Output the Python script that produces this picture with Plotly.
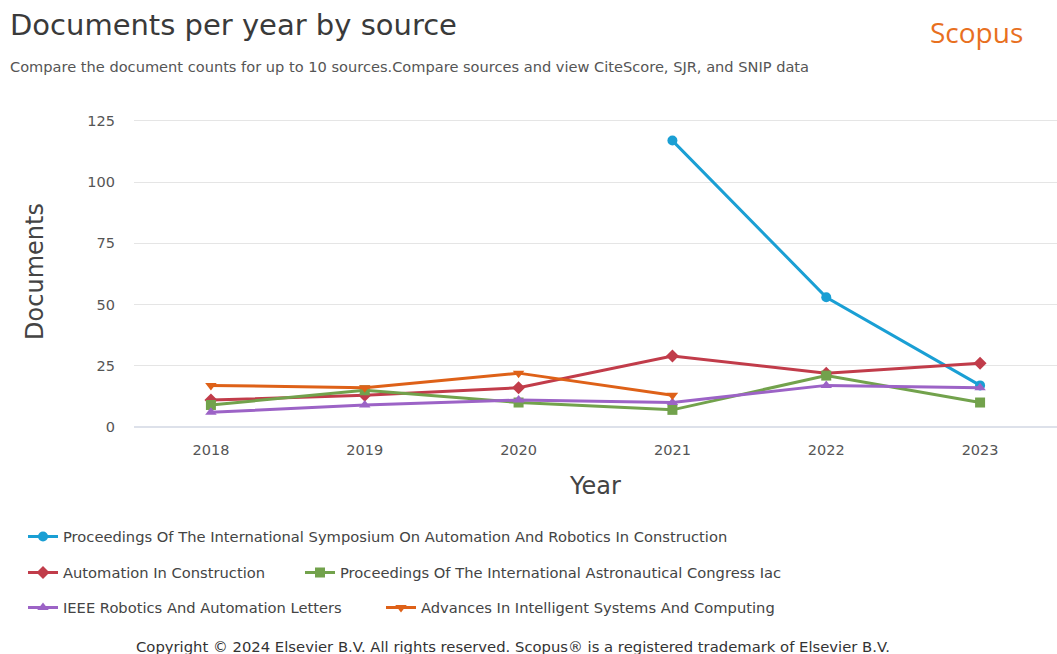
import plotly.graph_objects as go

years = [2018, 2019, 2020, 2021, 2022, 2023]
names = [
    "Proceedings Of The International Symposium On Automation And Robotics In Construction",
    "Automation In Construction",
    "Proceedings Of The International Astronautical Congress Iac",
    "IEEE Robotics And Automation Letters",
    "Advances In Intelligent Systems And Computing",
]
isarc = [None, None, None, 117, 53, 17]
autcon = [11, 13, 16, 29, 22, 26]
iac = [9, 15, 10, 7, 21, 10]
ieee_ral = [6, 9, 11, 10, 17, 16]
aisc = [17, 16, 22, 13, None, None]

series = [isarc, autcon, iac, ieee_ral, aisc]
colors = ["#1a9fd4", "#c13c4a", "#72a24c", "#9c63c6", "#de6118"]
symbols = ["circle", "diamond", "square", "triangle-up", "triangle-down"]
legends = ["legend", "legend2", "legend3", "legend4", "legend5"]

FONT = "DejaVu Sans"

fig = go.Figure()
for name, ys, c, s, lg in zip(names, series, colors, symbols, legends):
    fig.add_trace(go.Scatter(
        x=years, y=ys, name=name, mode="lines+markers",
        line=dict(color=c, width=3),
        marker=dict(color=c, symbol=s, size=10),
        legend=lg, cliponaxis=False,
    ))

leg_common = dict(orientation="h", xanchor="left", yanchor="middle",
                  xref="container", yref="container",
                  font=dict(family=FONT, size=14.7, color="#444"),
                  bgcolor="rgba(0,0,0,0)", itemwidth=30)

W, H = 1057, 654
def ypos(px):
    return 1 - px / H

fig.update_layout(
    width=W, height=H,
    margin=dict(l=134, r=0, t=116, b=227),
    plot_bgcolor="white", paper_bgcolor="white",
    font=dict(family=FONT, color="#555"),
    xaxis=dict(
        range=[2017.5, 2023.5], tickmode="array", tickvals=years,
        ticktext=[str(y) for y in years], showgrid=False, zeroline=False,
        showline=False, tickfont=dict(size=14.5, color="#555"), ticks="",
        ticklabelstandoff=12,
        title=dict(text="Year", font=dict(size=24, color="#444"), standoff=20),
    ),
    yaxis=dict(
        range=[0, 127.04], tickvals=[0, 25, 50, 75, 100, 125],
        showgrid=True, gridcolor="#e5e5e5", gridwidth=1,
        zeroline=True, zerolinecolor="#dde1ea", zerolinewidth=1.5,
        showline=False, ticks="", tickfont=dict(size=14.5, color="#555"),
        ticklabelstandoff=18,
        title=dict(text="Documents", font=dict(size=24, color="#444"), standoff=36),
    ),
    legend=dict(x=23 / W, y=ypos(537), **leg_common),
    legend2=dict(x=23 / W, y=ypos(573), **leg_common),
    legend3=dict(x=300 / W, y=ypos(573), **leg_common),
    legend4=dict(x=23 / W, y=ypos(608), **leg_common),
    legend5=dict(x=381 / W, y=ypos(608), **leg_common),
    showlegend=True,
)

fig.add_annotation(text="Documents per year by source", xref="paper", yref="paper",
                   x=-126 / 923, xanchor="left", y=1 + (116 - 25) / 311, yanchor="middle",
                   showarrow=False, font=dict(family=FONT, size=29, color="#3a3a3a"))
fig.add_annotation(text="Compare the document counts for up to 10 sources.Compare sources and view CiteScore, SJR, and SNIP data",
                   xref="paper", yref="paper",
                   x=-126 / 923, xanchor="left", y=1 + (116 - 66) / 311, yanchor="middle",
                   showarrow=False, font=dict(family=FONT, size=14.6, color="#555"))
fig.add_annotation(text="Scopus", xref="paper", yref="paper",
                   x=(1025 - 134) / 923, xanchor="right", y=1 + (116 - 32) / 311, yanchor="middle",
                   showarrow=False, font=dict(family="Open Sans", size=28, color="#e8701f"))
fig.add_annotation(text="Copyright © 2024 Elsevier B.V. All rights reserved. Scopus® is a registered trademark of Elsevier B.V.",
                   xref="paper", yref="paper",
                   x=(513 - 134) / 923, xanchor="center", y=-(646 - 427) / 311, yanchor="middle",
                   showarrow=False, font=dict(family=FONT, size=14.8, color="#333"))

fig.write_html("out.html")
